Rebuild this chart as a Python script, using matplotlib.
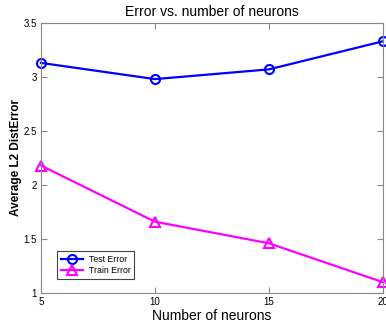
import matplotlib
matplotlib.use('Agg')
import matplotlib.pyplot as plt

neurons = [5, 10, 15, 20]
test_error = [3.13, 2.98, 3.07, 3.33]
train_error = [2.18, 1.66, 1.46, 1.10]

plt.rcParams['font.family'] = ['Liberation Sans', 'DejaVu Sans']

fig = plt.figure(figsize=(3.86, 3.23), dpi=100)
ax = fig.add_axes([0.106, 0.093, 0.886, 0.836])

ax.plot(neurons, test_error, '-o', color='#0000ff', linewidth=1.6, markersize=6.5,
        markerfacecolor='none', markeredgewidth=1.5, label='Test Error', clip_on=False)
ax.plot(neurons, train_error, '-^', color='#ff00ff', linewidth=1.6, markersize=6.5,
        markerfacecolor='none', markeredgewidth=1.5, label='Train Error', clip_on=False)

ax.set_xlim(5, 20)
ax.set_ylim(1, 3.5)
ax.set_xticks(neurons)
ax.set_xticklabels(['5', '10', '15', '20'])
ax.set_yticks([1, 1.5, 2, 2.5, 3, 3.5])
ax.set_yticklabels(['1', '1.5', '2', '2.5', '3', '3.5'])
ax.tick_params(direction='in', top=True, right=True, labelsize=7, length=4,
               color='#888888', pad=3)
for s in ax.spines.values():
    s.set_color('#888888')

ax.set_title('Error vs. number of neurons', fontsize=10, pad=5)
ax.set_xlabel('Number of neurons', fontsize=10, labelpad=1)
ax.set_ylabel('Average L2 DistError', fontsize=8.5, fontweight='bold', labelpad=1)

leg = ax.legend(loc='lower left', bbox_to_anchor=(0.033, 0.035), fontsize=6.3,
                fancybox=False, edgecolor='#444444', framealpha=1,
                handlelength=2.6, borderpad=0.45, labelspacing=0.3, handletextpad=0.6)
leg.get_frame().set_linewidth(0.8)

fig.savefig('out.png', dpi=100)
